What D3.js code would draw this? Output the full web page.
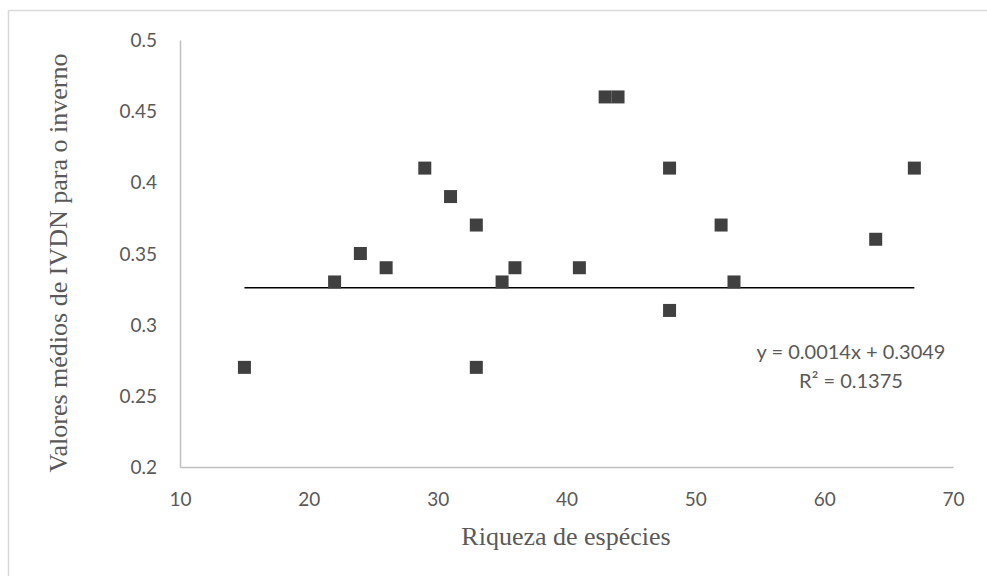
<!DOCTYPE html>
<html lang="pt">
<head>
    <meta charset="utf-8">
    <title>IVDN vs riqueza de espécies</title>
    <script type="text/javascript" src="https://cdn.jsdelivr.net/npm/d3@7"></script>
    <style type="text/css">
        body { margin: 0; background: #fff; }
        .tick text { font-family: Lato, "Open Sans", sans-serif; fill: #595959; }
        .title { font-family: "Liberation Serif", "Times New Roman", serif; fill: #595959; }
    </style>
</head>
<body>
    <script type="text/javascript">

        //Data
        var riqueza = [15, 22, 24, 26, 29, 31, 33, 33, 35, 36, 41, 43, 44, 48, 48, 52, 53, 64, 67];
        var ivdn    = [0.27, 0.33, 0.35, 0.34, 0.41, 0.39, 0.37, 0.27, 0.33, 0.34, 0.34, 0.46, 0.46, 0.41, 0.31, 0.37, 0.33, 0.36, 0.41];
        var xTicks = [10, 20, 30, 40, 50, 60, 70];
        var yTicks = [0.2, 0.25, 0.3, 0.35, 0.4, 0.45, 0.5];
        //Trend line as drawn in the picture (endpoints)
        var trendX = [15, 67];
        var trendY = [0.326, 0.326];
        var eqLines = ["y = 0.0014x + 0.3049", "R² = 0.1375"];

        //Width and height
        var w = 987;
        var h = 576;

        var svg = d3.select("body")
            .append("svg")
            .attr("width", w)
            .attr("height", h);

        //Chart border
        svg.append("rect")
            .attr("x", 8.5)
            .attr("y", 10.5)
            .attr("width", w + 20)
            .attr("height", h + 20)
            .attr("fill", "none")
            .attr("stroke", "#d9d9d9")
            .attr("stroke-width", 1.5);

        var x = d3.scaleLinear().domain([10, 70]).range([180, 953]);
        var y = d3.scaleLinear().domain([0.2, 0.5]).range([467, 40]);

        //Axes
        var xAxis = svg.append("g")
            .attr("transform", "translate(0," + y(0.2) + ")")
            .call(d3.axisBottom(x).tickValues(xTicks).tickSize(0).tickPadding(26).tickFormat(d3.format("d")));
        var yAxis = svg.append("g")
            .attr("transform", "translate(" + x(10) + ",0)")
            .call(d3.axisLeft(y).tickValues(yTicks).tickSize(0).tickPadding(23).tickFormat(function (d) { return String(+d.toFixed(2)); }));

        [xAxis, yAxis].forEach(function (g) {
            g.select(".domain").attr("stroke", "#bfbfbf").attr("stroke-width", 1.5);
            g.selectAll(".tick text").style("font-size", "19px");
        });
        yAxis.selectAll(".tick text").attr("dy", "0.35em");

        //Trend line
        svg.append("line")
            .attr("x1", x(trendX[0]))
            .attr("x2", x(trendX[1]))
            .attr("y1", y(trendY[0]))
            .attr("y2", y(trendY[1]))
            .attr("stroke", "#000")
            .attr("stroke-width", 1.5);

        //Points
        var s = 13;
        svg.selectAll("rect.pt")
            .data(d3.zip(riqueza, ivdn))
            .enter()
            .append("rect")
            .attr("class", "pt")
            .attr("x", function (d) { return x(d[0]) - s / 2; })
            .attr("y", function (d) { return y(d[1]) - s / 2; })
            .attr("width", s)
            .attr("height", s)
            .attr("fill", "#404040");

        //Equation label
        svg.append("text")
            .attr("x", 851)
            .attr("y", 359)
            .attr("text-anchor", "middle")
            .style("font-family", "Lato, 'Open Sans', sans-serif")
            .style("font-size", "20px")
            .style("fill", "#595959")
            .selectAll("tspan")
            .data(eqLines)
            .enter()
            .append("tspan")
            .attr("x", 851)
            .attr("dy", function (d, i) { return i ? 29 : 0; })
            .text(function (d) { return d; });

        //Axis titles
        svg.append("text")
            .attr("class", "title")
            .attr("x", 566)
            .attr("y", 545)
            .attr("text-anchor", "middle")
            .style("font-size", "26px")
            .text("Riqueza de espécies");

        svg.append("text")
            .attr("class", "title")
            .attr("transform", "translate(67,263) rotate(-90)")
            .attr("text-anchor", "middle")
            .style("font-size", "26px")
            .text("Valores médios de IVDN para o inverno");

    </script>
</body>
</html>
